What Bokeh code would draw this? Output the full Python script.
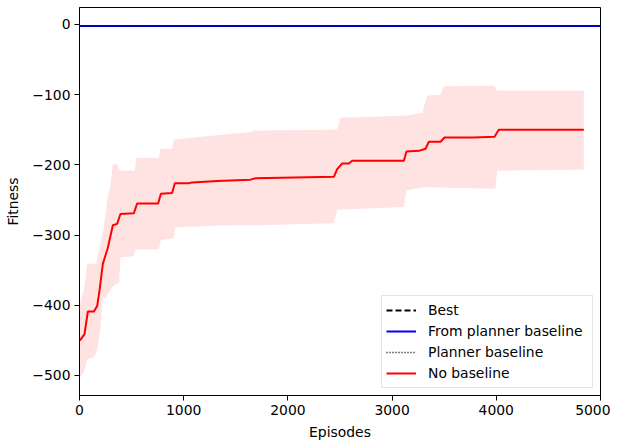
from bokeh.plotting import figure
from bokeh.models import Range1d, FixedTicker, Legend, LegendItem
from bokeh.embed import file_html
from bokeh.resources import INLINE

# ---- data ----
ref_episodes = [0, 5000]
best_fitness = [-2, -2]
from_planner_fitness = [-2, -2]
planner_fitness = [-2, -2]

mean_episodes = [0, 10, 48, 80, 137, 170, 192, 224, 272, 320, 361, 393, 521, 553, 755, 781,
                 889, 915, 1049, 1081, 1321, 1641, 1689, 2441, 2473, 2521, 2585, 2617, 3113,
                 3138, 3257, 3321, 3353, 3465, 3503, 3785, 3983, 4024, 4840]
mean_fitness = [-450, -449, -441, -409, -409, -401, -379, -341, -318, -286, -284, -270, -269, -255,
                -255, -241, -240, -226, -226, -225, -223, -221, -219, -217, -206, -198, -198, -194,
                -194, -181, -180, -177, -167, -167, -161, -161, -160, -150, -150]

upper_episodes = [0, 10, 42, 74, 160, 186, 234, 265, 298, 320, 361, 384, 531, 544, 761, 777,
                  889, 905, 1161, 1641, 1673, 2441, 2473, 2505, 3113, 3289, 3337, 3465, 3497,
                  3977, 4008, 4840]
upper_fitness = [-405, -393, -379, -341, -341, -322, -289, -251, -227, -199, -199, -208, -208,
                 -190, -190, -177, -177, -164, -160, -153, -151, -150, -149, -133, -130, -126,
                 -101, -100, -88, -87, -94, -94]

lower_episodes = [0, 10, 42, 80, 137, 170, 202, 224, 250, 272, 313, 361, 380, 393, 521, 537,
                  761, 781, 905, 921, 1449, 1737, 2441, 2473, 3113, 3138, 3305, 3992, 4008, 4840]
lower_fitness = [-503, -502, -495, -476, -474, -464, -431, -388, -391, -384, -374, -369, -369,
                 -332, -330, -321, -320, -307, -305, -289, -286, -286, -283, -264, -260, -236,
                 -232, -234, -208, -207]

x_ticks = [0, 1000, 2000, 3000, 4000, 5000]
y_ticks = [0, -100, -200, -300, -400, -500]
y_tick_labels = ["0", "\u2212100", "\u2212200", "\u2212300", "\u2212400", "\u2212500"]

FONT = "DejaVu Sans"
FS = "13.9px"

p = figure(width=610, height=442, output_backend="svg", toolbar_location=None,
           x_range=Range1d(0, 5000), y_range=Range1d(-528.5, 24.2),
           min_border_left=79, min_border_right=10, min_border_top=7, min_border_bottom=47)
p.background_fill_color = "white"
p.border_fill_color = "white"
p.outline_line_color = "black"
p.outline_line_width = 1
p.xgrid.visible = False
p.ygrid.visible = False

# band
band_x = upper_episodes + lower_episodes[::-1]
band_y = upper_fitness + lower_fitness[::-1]
p.patch(band_x, band_y, fill_color="red", fill_alpha=0.11, line_color=None)

r_best = p.line(ref_episodes, best_fitness, line_color="black", line_width=2, line_dash="6 3")
r_from = p.line(ref_episodes, from_planner_fitness, line_color="blue", line_width=2)
r_plan = p.line(ref_episodes, planner_fitness, line_color="black", line_width=1.5, line_dash="1 2")
r_none = p.line(mean_episodes, mean_fitness, line_color="red", line_width=2)

legend = Legend(items=[
    LegendItem(label="Best", renderers=[r_best]),
    LegendItem(label="From planner baseline", renderers=[r_from]),
    LegendItem(label="Planner baseline", renderers=[r_plan]),
    LegendItem(label="No baseline", renderers=[r_none]),
], location="bottom_right")
legend.margin = 7
legend.padding = 4
legend.spacing = 1
legend.glyph_width = 30
legend.glyph_height = 20
legend.label_height = 20
legend.label_standoff = 12
legend.label_width = 160
legend.label_text_font = FONT
legend.label_text_font_size = FS
legend.label_text_color = "black"
legend.border_line_color = "#cccccc"
legend.border_line_width = 1
legend.background_fill_color = "white"
legend.background_fill_alpha = 0.8
p.add_layout(legend)

for ax in (p.xaxis[0], p.yaxis[0]):
    ax.axis_line_color = "black"
    ax.axis_line_width = 1
    ax.major_tick_line_color = "black"
    ax.major_tick_out = 5
    ax.major_tick_in = 0
    ax.minor_tick_line_color = None
    ax.major_label_text_font = FONT
    ax.major_label_text_font_size = FS
    ax.major_label_text_color = "black"
    ax.axis_label_text_font = FONT
    ax.axis_label_text_font_size = FS
    ax.axis_label_text_font_style = "normal"
    ax.axis_label_text_color = "black"
    ax.major_label_standoff = 4

p.xaxis.ticker = FixedTicker(ticks=x_ticks)
p.yaxis.ticker = FixedTicker(ticks=y_ticks)
p.yaxis.major_label_overrides = {t: l for t, l in zip(y_ticks, y_tick_labels)}
p.xaxis.axis_label = "Episodes"
p.yaxis.axis_label = "Fitness"
p.xaxis.axis_label_standoff = 6
p.yaxis.axis_label_standoff = 8

open("out.html", "w").write(file_html(p, INLINE))
